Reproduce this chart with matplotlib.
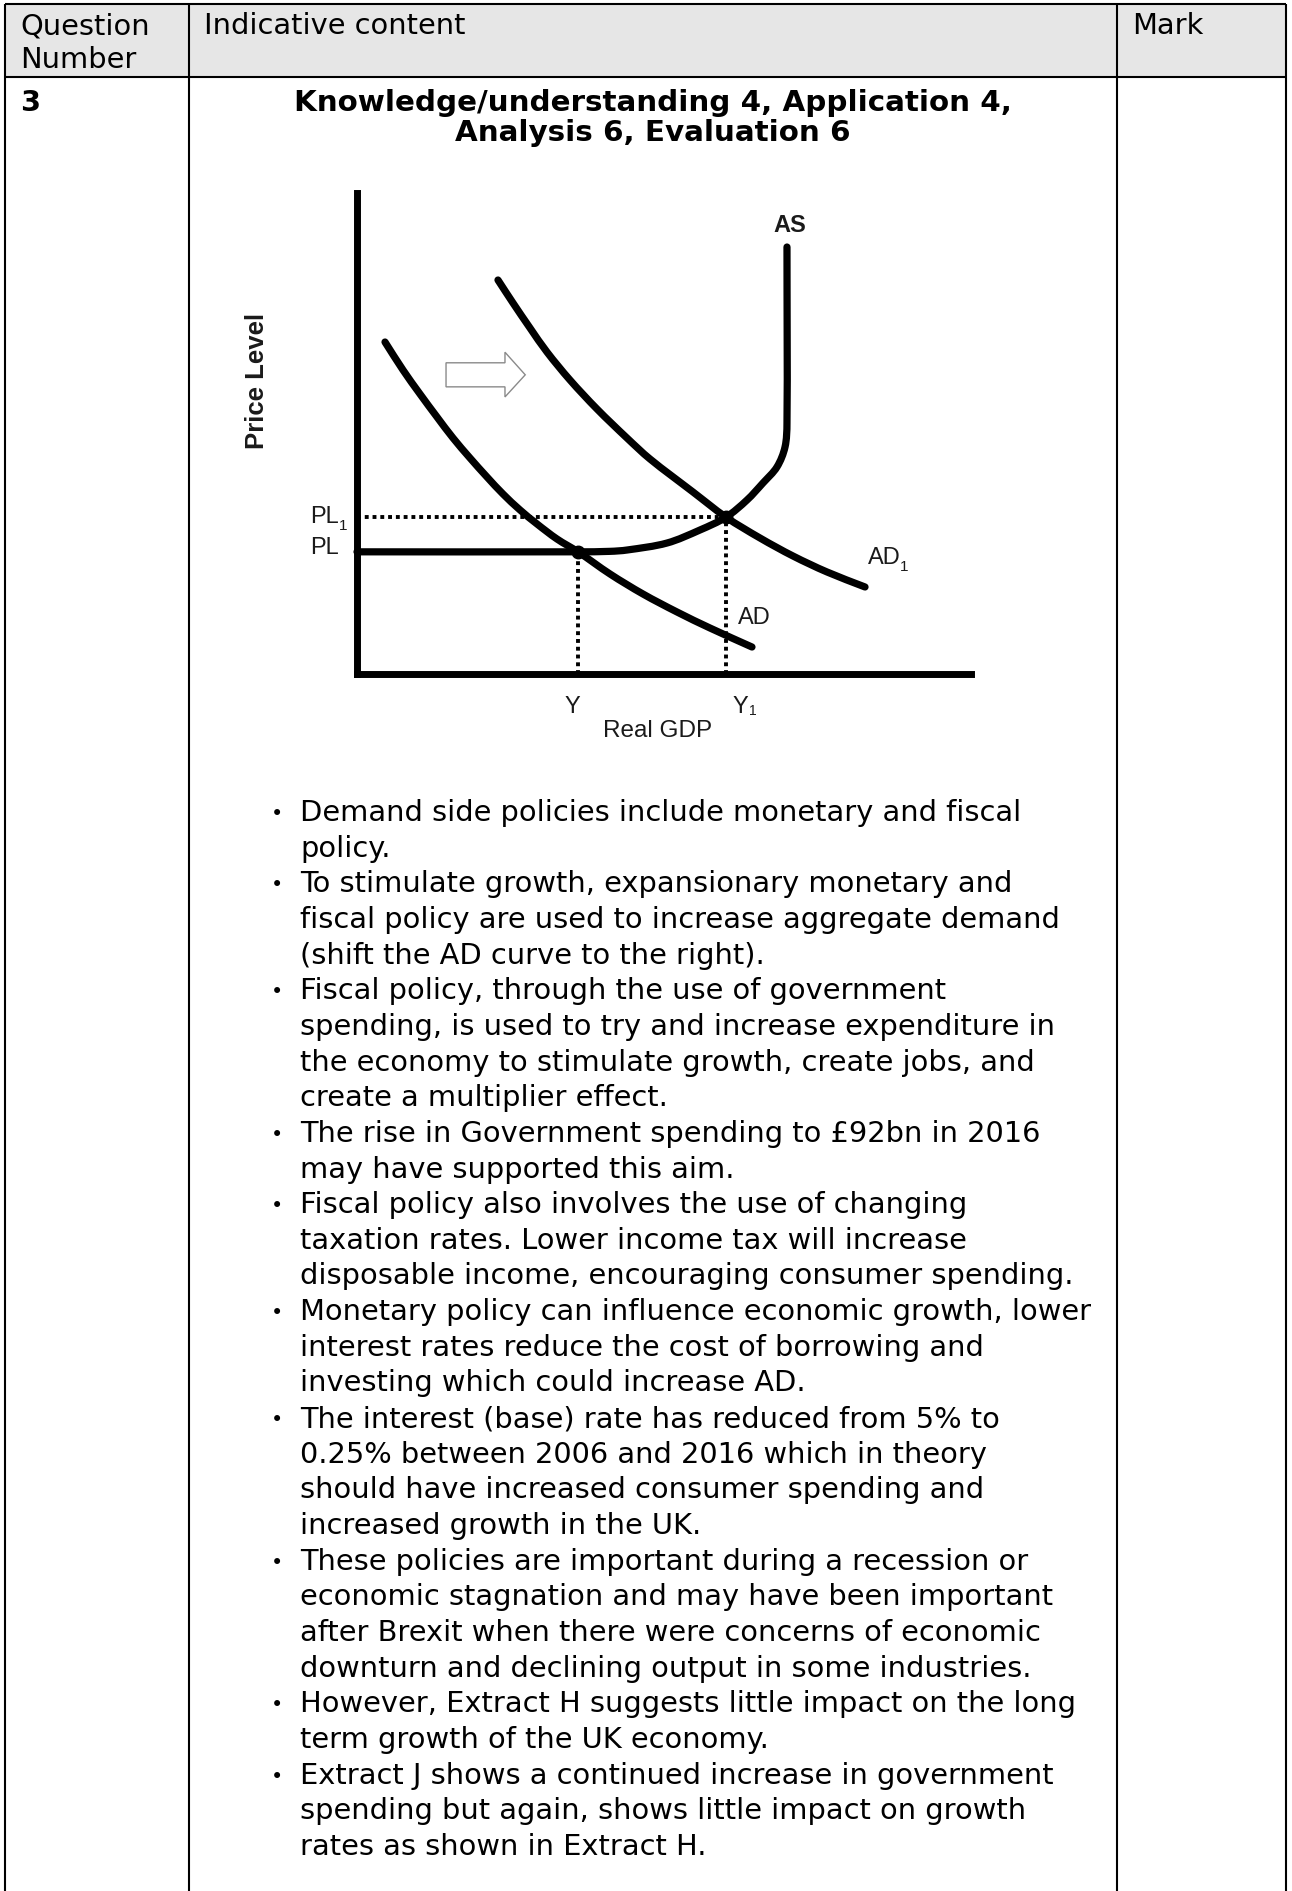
import numpy as np
import matplotlib.pyplot as plt
from matplotlib.patches import Polygon, Rectangle, PathPatch
from matplotlib.path import Path

### Diagram data (x = Real GDP, y = Price Level, both 0-100)
ad_x = [4.56, 7.49, 10.26, 13.03, 15.64, 18.40, 21.17, 23.78, 26.55, 29.32, 32.57,
        36.0, 41.21, 46.58, 52.12, 57.49, 64.33]
ad_y = [69.02, 63.20, 58.21, 53.43, 49.06, 44.91, 40.96, 37.42, 34.10, 31.19, 28.07,
        25.4, 20.79, 16.63, 12.89, 9.56, 5.61]

ad1_x = [22.96, 25.41, 28.18, 30.94, 34.69, 39.09, 43.97, 47.72, 54.72, 60.1,
         65.64, 71.01, 76.55, 82.74]
ad1_y = [81.91, 77.13, 71.93, 66.94, 61.12, 55.09, 49.06, 44.70, 37.84, 32.6,
         28.27, 24.53, 21.21, 18.09]

as_x = [0.0, 36.0, 41.21, 44.0, 50.49, 55.86, 60.1, 63.52, 66.12, 68.40, 69.71, 70.03, 70.03]
as_y = [25.4, 25.4, 25.5, 25.78, 27.23, 29.94, 32.6, 36.17, 39.71, 43.04, 47.19, 52.18, 88.77]

y0, y1 = 36.0, 60.1      # Y and Y1
pl0, pl1 = 25.4, 32.6    # PL and PL1

### Page text
header = ["Question", "Number", "Indicative content", "Mark"]
question = "3"
title_lines = ["Knowledge/understanding 4, Application 4,", "Analysis 6, Evaluation 6"]
bullets = [
    ["Demand side policies include monetary and fiscal", "policy."],
    ["To stimulate growth, expansionary monetary and",
     "fiscal policy are used to increase aggregate demand",
     "(shift the AD curve to the right)."],
    ["Fiscal policy, through the use of government",
     "spending, is used to try and increase expenditure in",
     "the economy to stimulate growth, create jobs, and",
     "create a multiplier effect."],
    ["The rise in Government spending to £92bn in 2016", "may have supported this aim."],
    ["Fiscal policy also involves the use of changing",
     "taxation rates. Lower income tax will increase",
     "disposable income, encouraging consumer spending."],
    ["Monetary policy can influence economic growth, lower",
     "interest rates reduce the cost of borrowing and",
     "investing which could increase AD."],
    ["The interest (base) rate has reduced from 5% to",
     "0.25% between 2006 and 2016 which in theory",
     "should have increased consumer spending and",
     "increased growth in the UK."],
    ["These policies are important during a recession or",
     "economic stagnation and may have been important",
     "after Brexit when there were concerns of economic",
     "downturn and declining output in some industries."],
    ["However, Extract H suggests little impact on the long",
     "term growth of the UK economy."],
    ["Extract J shows a continued increase in government",
     "spending but again, shows little impact on growth",
     "rates as shown in Extract H."],
]


def smooth_curve(ax, xs, ys, **kw):
    # draw a smooth bezier path through the read points
    pts = ax.transData.transform(np.column_stack([xs, ys]))
    d = np.hypot(*np.diff(pts, axis=0).T)
    tang = np.zeros_like(pts)
    tang[0] = (pts[1] - pts[0]) / d[0]
    tang[-1] = (pts[-1] - pts[-2]) / d[-1]
    for i in range(1, len(pts) - 1):
        tang[i] = (pts[i + 1] - pts[i - 1]) / (d[i - 1] + d[i])
    verts = [pts[0]]
    codes = [Path.MOVETO]
    for i in range(len(pts) - 1):
        verts += [pts[i] + tang[i] * d[i] / 3, pts[i + 1] - tang[i + 1] * d[i] / 3, pts[i + 1]]
        codes += [Path.CURVE4] * 3
    path = ax.transData.inverted().transform_path(Path(verts, codes))
    ax.add_patch(PathPatch(path, fill=False, capstyle='round', joinstyle='round',
                           clip_on=False, **kw))


W, H = 1292, 1891
fig = plt.figure(figsize=(W / 100, H / 100), dpi=100)
page = fig.add_axes([0, 0, 1, 1])
page.set_xlim(0, W)
page.set_ylim(H, 0)
page.axis('off')

# table grid
left, c1, c2, right = 5, 189, 1117, 1286
top, head_bot = 4, 77
page.add_patch(Rectangle((left, top), right - left, head_bot - top, facecolor='#e6e6e6', edgecolor='none'))
for x in (left, c1, c2, right):
    page.plot([x, x], [top, H], color='black', lw=1.5, solid_capstyle='butt')
for y in (top, head_bot):
    page.plot([left, right], [y, y], color='black', lw=1.5, solid_capstyle='butt')

body = dict(family='DejaVu Sans', fontsize=20.8, color='black', va='baseline')
page.text(20, 34, header[0], **body)
page.text(20, 68, header[1], **body)
page.text(204, 34, header[2], **body)
page.text(1132, 34, header[3], **body)
page.text(20, 111, question, fontweight='bold', **body)
title = dict(body, fontsize=21.2)
for i, line in enumerate(title_lines):
    page.text((c1 + c2) / 2, 111 + i * 30, line, ha='center', fontweight='bold', **title)

# bullet list
base, step = 821, 35.65
n = 0
for item in bullets:
    page.text(277, base + n * step - 1, "\u2022", ha='center', family='DejaVu Sans',
              fontsize=15, va='baseline')
    for line in item:
        page.text(300, base + n * step, line, **body)
        n += 1

### AD/AS diagram
ax = fig.add_axes([357 / W, (H - 674) / H, (971 - 357) / W, (674 - 193) / H])
ax.set_xlim(0, 100)
ax.set_ylim(0, 100)
ax.set_xticks([])
ax.set_yticks([])
for s in ('top', 'right'):
    ax.spines[s].set_visible(False)
for s in ('left', 'bottom'):
    ax.spines[s].set_linewidth(5.0)
ax.patch.set_alpha(0)

dot = dict(color='black', lw=2.8, linestyle=(0, (1, 1)), clip_on=False)
ax.plot([0, y1], [pl1, pl1], **dot)
ax.plot([y0, y0], [0, pl0], **dot)
ax.plot([y1, y1], [0, pl1], **dot)

smooth_curve(ax, as_x, as_y, edgecolor='black', lw=5.2)
smooth_curve(ax, ad_x, ad_y, edgecolor='black', lw=5.2)
smooth_curve(ax, ad1_x, ad1_y, edgecolor='black', lw=5.2)
ax.plot([y0, y1], [pl0, pl1], 'o', color='black', ms=9, clip_on=False)

# hollow shift arrow
arrow = [(14.5, 59.7), (24.1, 59.7), (24.1, 57.6), (27.4, 62.2),
         (24.1, 66.9), (24.1, 64.7), (14.5, 64.7)]
ax.add_patch(Polygon(arrow, closed=True, facecolor='white', edgecolor='#8a8a8a', lw=1.0))

lab = dict(family='Liberation Sans', fontsize=17, color='#1a1a1a', clip_on=False)
sub = dict(family='Liberation Sans', color='#1a1a1a', ha='left', va='center', clip_on=False)
ax.text(70.5, 93.3, "AS", ha='center', va='center', fontweight='bold', **lab)
ax.text(83.2, 24.1, "AD", ha='left', va='center', **lab)
ax.text(88.4, 22.2, "1", fontsize=11, **sub)
ax.text(62.1, 11.6, "AD", ha='left', va='center', **lab)
ax.text(-7.6, 32.6, "PL", ha='left', va='center', **lab)
ax.text(-2.9, 30.8, "1", fontsize=11, **sub)
ax.text(-7.6, 26.2, "PL", ha='left', va='center', **lab)
ax.text(35.0, -6.9, "Y", ha='center', va='center', **lab)
ax.text(61.1, -6.9, "Y", ha='left', va='center', **lab)
ax.text(63.9, -7.6, "1", fontsize=10, **sub)
ax.text(48.9, -11.9, "Real GDP", ha='center', va='center', fontsize=17.5,
        family='Liberation Sans', color='#1a1a1a', clip_on=False)
ax.text(-16.3, 61.0, "Price Level", ha='center', va='center', rotation=90, fontsize=18.5,
        fontweight='bold', family='Liberation Sans', color='#1a1a1a', clip_on=False)

fig.savefig('out.png', dpi=100)
